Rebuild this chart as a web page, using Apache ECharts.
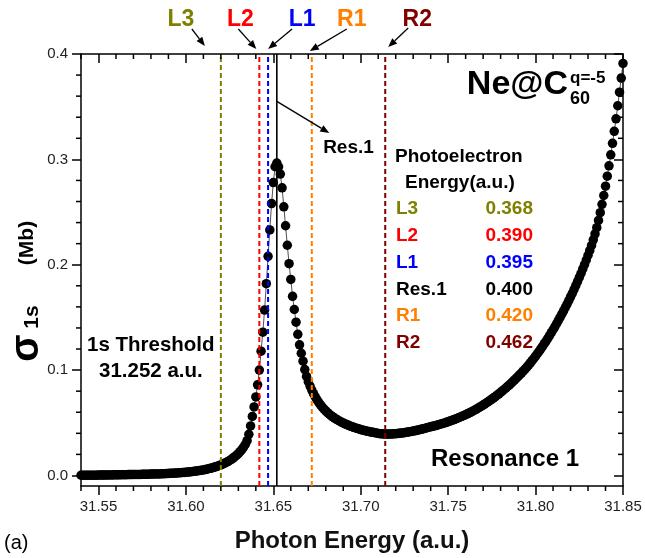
<!DOCTYPE html>
<html>
<head>
<meta charset="utf-8">
<script src="https://cdn.jsdelivr.net/npm/echarts@6/dist/echarts.min.js"></script>
<style>
  html, body { margin: 0; padding: 0; background: #fff; }
  #chart { width: 645px; height: 558px; }
  #err { position: absolute; left: 90px; top: 395px; font: 10px monospace; color: #c00; white-space: pre; }
</style>
</head>
<body>
<div id="chart"></div>
<div id="err"></div>
<script>
const errors = [];
window.onerror = function (msg) { errors.push(String(msg)); };

// 1s photoionization cross section of Ne@C60 (q = -5) across resonance 1.
// Photon energies are sampled every 0.001 a.u. starting at 31.540 a.u.
const X_START = 31.540;
const X_STEP = 0.001;

// sigma_1s (Mb), one value per photon energy
const sigma1s = [
  0.0002, 0.0002, 0.0002, 0.0002, 0.0003, 0.0003, 0.0003, 0.0003, 0.0003, 0.0003,
  0.0004, 0.0004, 0.0004, 0.0004, 0.0004, 0.0005, 0.0005, 0.0005, 0.0005, 0.0006,
  0.0006, 0.0006, 0.0006, 0.0007, 0.0007, 0.0007, 0.0007, 0.0008, 0.0008, 0.0008,
  0.0009, 0.0009, 0.0009, 0.0010, 0.0010, 0.0011, 0.0011, 0.0011, 0.0012, 0.0012,
  0.0013, 0.0013, 0.0014, 0.0014, 0.0015, 0.0015, 0.0016, 0.0017, 0.0017, 0.0018,
  0.0019, 0.0020, 0.0021, 0.0022, 0.0023, 0.0024, 0.0025, 0.0026, 0.0028, 0.0029,
  0.0031, 0.0032, 0.0034, 0.0036, 0.0038, 0.0040, 0.0042, 0.0045, 0.0047, 0.0050,
  0.0053, 0.0056, 0.0060, 0.0064, 0.0068, 0.0072, 0.0077, 0.0082, 0.0088, 0.0094,
  0.0100, 0.0107, 0.0115, 0.0123, 0.0132, 0.0142, 0.0153, 0.0165, 0.0178, 0.0192,
  0.0208, 0.0226, 0.0246, 0.0269, 0.0296, 0.0330, 0.0390, 0.0470, 0.0560, 0.0650,
  0.0745, 0.0860, 0.1000, 0.1180, 0.1360, 0.1570, 0.1820, 0.2080, 0.2330, 0.2580,
  0.2780, 0.2930, 0.2965, 0.2930, 0.2860, 0.2730, 0.2550, 0.2370, 0.2185, 0.2010,
  0.1860, 0.1700, 0.1575, 0.1455, 0.1340, 0.1240, 0.1160, 0.1085, 0.1005, 0.0940,
  0.0890, 0.0848, 0.0810, 0.0776, 0.0745, 0.0717, 0.0692, 0.0669, 0.0648, 0.0629,
  0.0612, 0.0596, 0.0581, 0.0568, 0.0556, 0.0545, 0.0534, 0.0524, 0.0515, 0.0506,
  0.0498, 0.0490, 0.0483, 0.0476, 0.0469, 0.0463, 0.0457, 0.0451, 0.0446, 0.0441,
  0.0436, 0.0431, 0.0427, 0.0423, 0.0419, 0.0415, 0.0412, 0.0409, 0.0406, 0.0403,
  0.0399, 0.0397, 0.0395, 0.0394, 0.0393, 0.0393, 0.0393, 0.0393, 0.0394, 0.0395,
  0.0396, 0.0398, 0.0400, 0.0402, 0.0404, 0.0406, 0.0409, 0.0412, 0.0415, 0.0418,
  0.0421, 0.0424, 0.0428, 0.0432, 0.0436, 0.0440, 0.0444, 0.0448, 0.0453, 0.0458,
  0.0462, 0.0466, 0.0470, 0.0474, 0.0479, 0.0484, 0.0489, 0.0494, 0.0499, 0.0504,
  0.0510, 0.0516, 0.0522, 0.0528, 0.0534, 0.0541, 0.0548, 0.0555, 0.0562, 0.0569,
  0.0577, 0.0585, 0.0593, 0.0601, 0.0610, 0.0619, 0.0628, 0.0638, 0.0648, 0.0658,
  0.0668, 0.0679, 0.0690, 0.0701, 0.0713, 0.0725, 0.0737, 0.0749, 0.0762, 0.0775,
  0.0788, 0.0802, 0.0816, 0.0830, 0.0845, 0.0860, 0.0875, 0.0891, 0.0907, 0.0923,
  0.0940, 0.0957, 0.0974, 0.0992, 0.1010, 0.1029, 0.1048, 0.1068, 0.1089, 0.1110,
  0.1132, 0.1155, 0.1178, 0.1202, 0.1226, 0.1251, 0.1276, 0.1302, 0.1328, 0.1355,
  0.1383, 0.1411, 0.1440, 0.1470, 0.1500, 0.1531, 0.1562, 0.1594, 0.1627, 0.1660,
  0.1694, 0.1729, 0.1765, 0.1802, 0.1840, 0.1879, 0.1919, 0.1960, 0.2002, 0.2045,
  0.2090, 0.2136, 0.2183, 0.2236, 0.2292, 0.2352, 0.2420, 0.2494, 0.2573, 0.2657,
  0.2746, 0.2840, 0.2939, 0.3043, 0.3152, 0.3266, 0.3385, 0.3509, 0.3638, 0.3772,
  0.3911
];

// 1s threshold (a.u.) and the photoelectron energies of the marked points
const threshold = 31.252;
const markerNames = ['L3', 'L2', 'L1', 'Res.1', 'R1', 'R2'];
const markerEnergies = ['0.368', '0.390', '0.395', '0.400', '0.420', '0.462'];

// axis ranges and tick values
const X_MIN = 31.54, X_MAX = 31.85;
const Y_MIN = -0.01, Y_MAX = 0.40;
const xMajorTicks = [31.55, 31.60, 31.65, 31.70, 31.75, 31.80, 31.85];
const xMinorTicks = [31.54, 31.56, 31.57, 31.58, 31.59, 31.61, 31.62, 31.63, 31.64,
  31.66, 31.67, 31.68, 31.69, 31.71, 31.72, 31.73, 31.74, 31.76, 31.77, 31.78, 31.79,
  31.81, 31.82, 31.83, 31.84];
const yMajorTicks = [0.0, 0.1, 0.2, 0.3, 0.4];
const yMinorTicks = [0.02, 0.04, 0.06, 0.08, 0.12, 0.14, 0.16, 0.18, 0.22, 0.24,
  0.26, 0.28, 0.32, 0.34, 0.36, 0.38];

// ---- styling ----
const FONT = 'Liberation Sans, Arial, Helvetica, sans-serif';
const markerColors = ['#808000', '#ff0000', '#0000ff', '#000000', '#ff8000', '#800000'];
const MAJOR_LEN = 9, MINOR_LEN = 5, TICK_W = 1.5;
// top-of-frame annotation layout (pixel offsets from each marker line)
const topLabelLayout = {
  L3: { text: -40, tail: [-29, 29], tip: [-16, 46] },
  L2: { text: -19, tail: [-21, 29], tip: [-3, 49] },
  L1: { text: 34, tail: [24, 29], tip: [0, 49] },
  R1: { text: 40, tail: [35, 29], tip: [-2, 51] },
  R2: { text: 32, tail: [23, 28], tip: [3, 47] }
};

const photonEnergy = sigma1s.map((_, i) => +(X_START + i * X_STEP).toFixed(3));
const curve = photonEnergy.map((x, i) => [x, sigma1s[i]]);
const markerX = markerEnergies.map(e => +(threshold + parseFloat(e)).toFixed(3));

const chart = echarts.init(document.getElementById('chart'), null, { renderer: 'canvas' });
const axisLineStyle = { color: '#000', width: 1.5 };
const tickLine = { color: '#000', width: 1.5 };

const markerSeries = markerNames.map((name, i) => ({
  type: 'line', xAxisIndex: 0, yAxisIndex: 0,
  data: [[markerX[i], Y_MIN], [markerX[i], Y_MAX]],
  symbol: 'none', silent: true, z: 5,
  lineStyle: name === 'Res.1'
    ? { color: '#000', width: 1.6, type: 'solid' }
    : { color: markerColors[i], width: 2, type: [5, 3] }
}));

try {
  chart.setOption({
    animation: false,
    backgroundColor: '#fff',
    grid: { left: 81, right: 22, top: 54, bottom: 72 },
    xAxis: [{
      type: 'value', position: 'bottom', min: X_MIN, max: X_MAX,
      axisLine: { show: true, onZero: false, lineStyle: axisLineStyle },
      axisTick: { show: true, length: MAJOR_LEN, customValues: xMajorTicks, lineStyle: tickLine },
      axisLabel: { customValues: xMajorTicks, margin: 13, color: '#222', fontSize: 15,
        formatter: v => v.toFixed(2) },
      splitLine: { show: false }
    }, {
      type: 'value', position: 'top', min: X_MIN, max: X_MAX,
      axisLine: { show: true, onZero: false, lineStyle: axisLineStyle },
      axisTick: { show: true, inside: true, length: MAJOR_LEN, customValues: xMajorTicks, lineStyle: tickLine },
      axisLabel: { show: false }, splitLine: { show: false }
    }],
    yAxis: [{
      type: 'value', position: 'left', min: Y_MIN, max: Y_MAX,
      axisLine: { show: true, onZero: false, lineStyle: axisLineStyle },
      axisTick: { show: true, length: MAJOR_LEN, customValues: yMajorTicks, lineStyle: tickLine },
      axisLabel: { customValues: yMajorTicks, margin: 13, color: '#222', fontSize: 15,
        formatter: v => v.toFixed(1) },
      splitLine: { show: false }
    }, {
      type: 'value', position: 'right', min: Y_MIN, max: Y_MAX,
      axisLine: { show: true, onZero: false, lineStyle: axisLineStyle },
      axisTick: { show: true, inside: true, length: MAJOR_LEN, customValues: yMajorTicks, lineStyle: tickLine },
      axisLabel: { show: false }, splitLine: { show: false }
    }],
    series: [{
      type: 'line', xAxisIndex: 0, yAxisIndex: 0,
      data: curve, symbol: 'circle', symbolSize: 9.5, showAllSymbol: true,
      clip: false, z: 2,
      itemStyle: { color: '#000' },
      lineStyle: { color: '#222', width: 0.8 }
    }].concat(markerSeries)
  });
} catch (e) { errors.push('opt: ' + e.message); }

// ---- annotations ----
const toPx = (x, y) => chart.convertToPixel({ xAxisIndex: 0, yAxisIndex: 0 }, [x, y]);

function seg(x1, y1, x2, y2, w) {
  return { type: 'line', shape: { x1: x1, y1: y1, x2: x2, y2: y2 },
    style: { stroke: '#000', lineWidth: w || 1.2 }, z: 12 };
}
function box(x, y, w, h) {
  return { type: 'rect', shape: { x: x, y: y, width: w, height: h },
    style: { fill: '#000' }, z: 12 };
}
function arrow(x1, y1, x2, y2) {
  const ang = Math.atan2(y2 - y1, x2 - x1);
  const L = 9, Wd = 3.6;
  const bx = x2 - L * Math.cos(ang), by = y2 - L * Math.sin(ang);
  const nx = -Math.sin(ang) * Wd, ny = Math.cos(ang) * Wd;
  return [
    seg(x1, y1, bx, by, 1.3),
    { type: 'polygon', shape: { points: [[x2, y2], [bx + nx, by + ny], [bx - nx, by - ny]] },
      style: { fill: '#000' }, z: 12 }
  ];
}
function label(text, x, y, font, color, align) {
  return { type: 'text', x: x, y: y, z: 10,
    style: { text: text, font: font, fill: color || '#000',
      align: align || 'left', verticalAlign: 'middle' } };
}

const g = [];
try {
  // colored labels above the frame with arrows down to their lines
  markerNames.forEach((name, i) => {
    const lay = topLabelLayout[name];
    if (!lay) return;
    const lx = toPx(markerX[i], Y_MAX)[0];
    g.push(label(name, lx + lay.text, 20, 'bold 23px ' + FONT, markerColors[i], 'center'));
    g.push(...arrow(lx + lay.tail[0], lay.tail[1], lx + lay.tip[0], lay.tip[1]));
  });

  // Res.1 callout
  const resIdx = markerNames.indexOf('Res.1');
  const resTail = toPx(markerX[resIdx], 0.355);
  const resTip = toPx(31.682, 0.325);
  g.push(...arrow(resTail[0], resTail[1], resTip[0], resTip[1]));
  const resTxt = toPx(31.6785, 0.311);
  g.push(label('Res.1', resTxt[0], resTxt[1], 'bold 19px ' + FONT, '#000', 'left'));

  // system label Ne@C60 with charge q = -5
  g.push(label('Ne@C', 568, 85, 'bold 34px ' + FONT, '#000', 'right'));
  g.push(label('q=-5', 570, 78, 'bold 17px ' + FONT, '#000', 'left'));
  g.push(label('60', 570, 99, 'bold 18px ' + FONT, '#000', 'left'));

  // photoelectron energy table
  g.push(label('Photoelectron', 395, 157, 'bold 19px ' + FONT, '#000', 'left'));
  g.push(label('Energy(a.u.)', 405, 183, 'bold 19px ' + FONT, '#000', 'left'));
  markerNames.forEach((name, i) => {
    const y = 209 + i * 26.8;
    g.push(label(name, 396, y, 'bold 19px ' + FONT, markerColors[i], 'left'));
    g.push(label(markerEnergies[i], 533, y, 'bold 19px ' + FONT, markerColors[i], 'right'));
  });

  // threshold note and resonance name
  g.push(label('1s Threshold', 87, 345, 'bold 20.5px ' + FONT, '#000', 'left'));
  g.push(label(threshold.toFixed(3) + ' a.u.', 99, 371, 'bold 20.5px ' + FONT, '#000', 'left'));
  g.push(label('Resonance 1', 431, 459, 'bold 24px ' + FONT, '#000', 'left'));

  // axis titles and panel tag
  const plotMid = (toPx(X_MIN, 0)[0] + toPx(X_MAX, 0)[0]) / 2;
  g.push(label('Photon Energy (a.u.)', plotMid, 541, 'bold 24px ' + FONT, '#111', 'center'));
  g.push(label('(a)', 4, 543, '20px ' + FONT, '#000', 'left'));
  const rot = (text, x, y, font) => ({ type: 'text', x: x, y: y, rotation: Math.PI / 2, z: 10,
    style: { text: text, font: font, fill: '#000', align: 'center', verticalAlign: 'middle' } });
  g.push(rot('\u03c3', 27, 348, 'bold 40px ' + FONT));
  g.push(rot('1s', 32, 317, 'bold 21px ' + FONT));
  g.push(rot('(Mb)', 27, 243, 'bold 21px ' + FONT));

  // minor frame ticks: outward on bottom/left, inward on top/right
  const p0 = toPx(X_MIN, Y_MIN), p1 = toPx(X_MAX, Y_MAX);
  xMinorTicks.forEach(v => {
    const px = toPx(v, 0)[0];
    g.push(box(px - TICK_W / 2, p0[1], TICK_W, MINOR_LEN));
    g.push(box(px - TICK_W / 2, p1[1], TICK_W, MINOR_LEN));
  });
  yMinorTicks.forEach(v => {
    const py = toPx(X_MIN, v)[1];
    g.push(box(p0[0] - MINOR_LEN, py - TICK_W / 2, MINOR_LEN, TICK_W));
    g.push(box(p1[0] - MINOR_LEN, py - TICK_W / 2, MINOR_LEN, TICK_W));
  });

  chart.setOption({ graphic: { elements: g } });
} catch (e) { errors.push('gfx: ' + e.message); }

setTimeout(() => {
  if (errors.length) document.getElementById('err').textContent = errors.join('\n');
}, 30);
</script>
</body>
</html>
